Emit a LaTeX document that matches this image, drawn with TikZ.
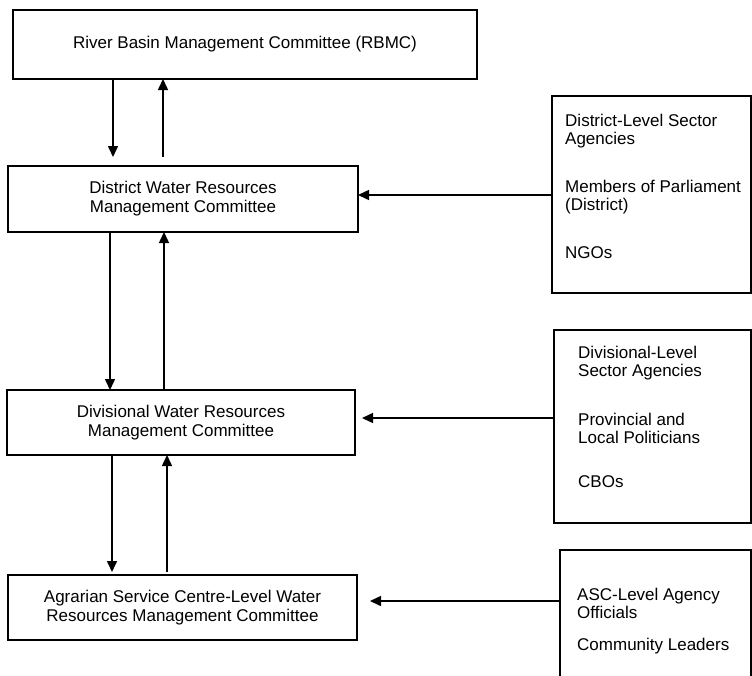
\documentclass[tikz,border=0pt]{standalone}
\usepackage{fontspec}
\setmainfont{Liberation Sans}
\usetikzlibrary{arrows.meta}
\begin{document}
\begin{tikzpicture}[x=1pt,y=-1pt,
 mainbox/.style={draw, line width=1.5pt, inner sep=0pt, outer sep=0pt, align=center, font=\fontsize{17}{19}\selectfont},
 sidebox/.style={draw, line width=1.5pt, inner sep=0pt, outer sep=0pt},
 item/.style={anchor=base west, inner sep=0pt, font=\fontsize{17}{18}\selectfont},
 arr/.style={line width=1.5pt, -{Triangle[length=11pt,width=10pt]}}]
\clip (0,0) rectangle (752,675);
\fill[white] (0,0) rectangle (752,675);
% main boxes
\node[mainbox, minimum width=464pt, minimum height=69pt] (rbmc) at (245,44.5) {River Basin Management Committee (RBMC)};
\node[mainbox, minimum width=350pt, minimum height=66pt] (district) at (183,199) {District Water Resources\\Management Committee};
\node[mainbox, minimum width=348pt, minimum height=65pt] (divisional) at (181,422.5) {Divisional Water Resources\\Management Committee};
\node[mainbox, minimum width=349pt, minimum height=65pt] (asc) at (182.5,607.5) {Agrarian Service Centre-Level Water\\Resources Management Committee};
% side boxes
\node[sidebox, minimum width=199pt, minimum height=197pt] (box1) at (651.5,194.5) {};
\node[sidebox, minimum width=197pt, minimum height=193pt] (box2) at (652.5,426.5) {};
\node[sidebox, minimum width=191pt, minimum height=150pt] (box3) at (655.5,625) {};
% side texts
\node[item] (t11) at (565,126) {District-Level Sector};
\node[item] (t12) at (565,144) {Agencies};
\node[item] (t13) at (565,192) {Members of Parliament};
\node[item] (t14) at (565,210) {(District)};
\node[item] (t15) at (565,258) {NGOs};
\node[item] (t21) at (578,358) {Divisional-Level};
\node[item] (t22) at (578,376) {Sector Agencies};
\node[item] (t23) at (578,425) {Provincial and};
\node[item] (t24) at (578,443) {Local Politicians};
\node[item] (t25) at (578,487) {CBOs};
\node[item] (t31) at (577,600) {ASC-Level Agency};
\node[item] (t32) at (577,618) {Officials};
\node[item] (t33) at (577,650) {Community Leaders};
% helper coordinates
\coordinate (v1) at (113,0);
\coordinate (v2) at (163,0);
\coordinate (v3) at (110,0);
\coordinate (v4) at (164,0);
\coordinate (v5) at (112,0);
\coordinate (v6) at (167,0);
\coordinate (h1) at (0,195);
\coordinate (h2) at (0,418);
\coordinate (h3) at (0,601);
% vertical connectors
\draw[arr, shorten >=9pt] (rbmc.south -| v1) -- (district.north -| v1);
\draw[arr, shorten <=9pt] (district.north -| v2) -- (rbmc.south -| v2);
\draw[arr] (district.south -| v3) -- (divisional.north -| v3);
\draw[arr] (divisional.north -| v4) -- (district.south -| v4);
\draw[arr, shorten >=3pt] (divisional.south -| v5) -- (asc.north -| v5);
\draw[arr, shorten <=3pt] (asc.north -| v6) -- (divisional.south -| v6);
% horizontal connectors
\draw[arr] (box1.west |- h1) -- (district.east |- h1);
\draw[arr, shorten >=7pt] (box2.west |- h2) -- (divisional.east |- h2);
\draw[arr, shorten >=13pt] (box3.west |- h3) -- (asc.east |- h3);
\end{tikzpicture}
\end{document}
